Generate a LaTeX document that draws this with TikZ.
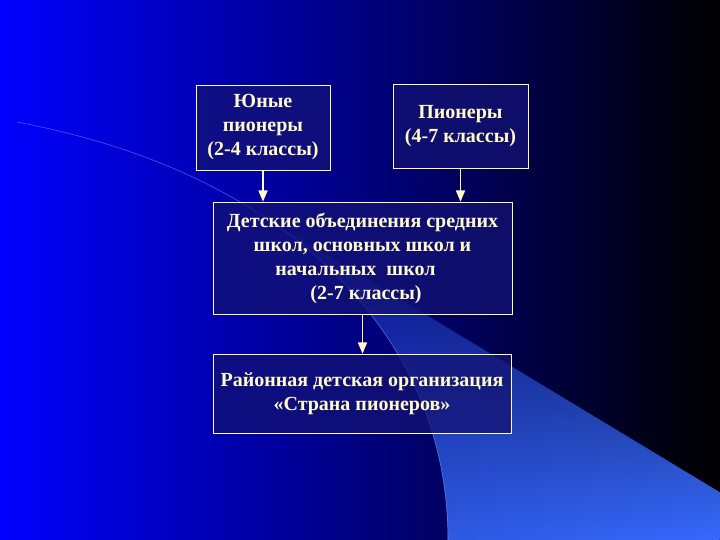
\documentclass[tikz,border=0pt]{standalone}
\usepackage{fontspec}
\setmainfont{Liberation Serif}
\usetikzlibrary{arrows, positioning, fadings}
\definecolor{slidetext}{RGB}{255,250,200}
\definecolor{boxfill}{RGB}{20,20,116}
\definecolor{swooshleft}{RGB}{40,80,205}
\definecolor{swooshright}{RGB}{55,105,255}
\tikzfading[name=swooshfade, top color=transparent!90,
  middle color=transparent!30, bottom color=transparent!0]
\tikzset{
  orgbox/.style = {align=center, inner sep=0pt, text centered,
    font=\fontsize{20}{24}\selectfont\bfseries, text=slidetext,
    draw=slidetext, fill=boxfill, fill opacity=0.74, text opacity=1,
    line width=0.8pt},
  link/.style = {->, >=triangle 45, draw=slidetext, line width=1.6pt}
}
\begin{document}
\begin{tikzpicture}[x=1pt, y=-1pt]
\useasboundingbox (0,0) rectangle (720,540);
\shade[left color=blue, right color=black] (0,0) rectangle (720,540);
\shade[left color=swooshleft, right color=swooshright, path fading=swooshfade]
  (235,199) .. controls (340,258) and (448,370) .. (448,540)
  -- (720,540) -- (720,492) -- cycle;
\draw[swooshright!70!white, line width=0.6pt, opacity=0.6]
  (17,122) .. controls (100,138) and (170,162) .. (235,199)
  .. controls (340,258) and (448,370) .. (448,540);

\node[orgbox, minimum width=134pt, minimum height=85pt] (yun) at (263,127.5)
  {Юные\\пионеры\\(2-4 классы)};
\node[orgbox, minimum width=135pt, minimum height=84pt] (pion) at (460.5,126)
  {Пионеры\\(4-7 классы)};
\node[orgbox, minimum width=299pt, minimum height=112pt] (det) at (362.5,258)
  {Детские объединения средних\\школ, основных школ и\\начальных\ \ школ\hspace{14pt}\mbox{}\\\hspace*{7pt}(2-7 классы)};
\node[orgbox, minimum width=298pt, minimum height=79pt] (rayon) at (362,393.5)
  {Районная детская организация\\«Страна пионеров»};

\draw[link] (yun) -- (yun |- det.north);
\draw[link] (pion) -- (pion |- det.north);
\draw[link] (det) -- (det |- rayon.north);
\end{tikzpicture}
\end{document}
